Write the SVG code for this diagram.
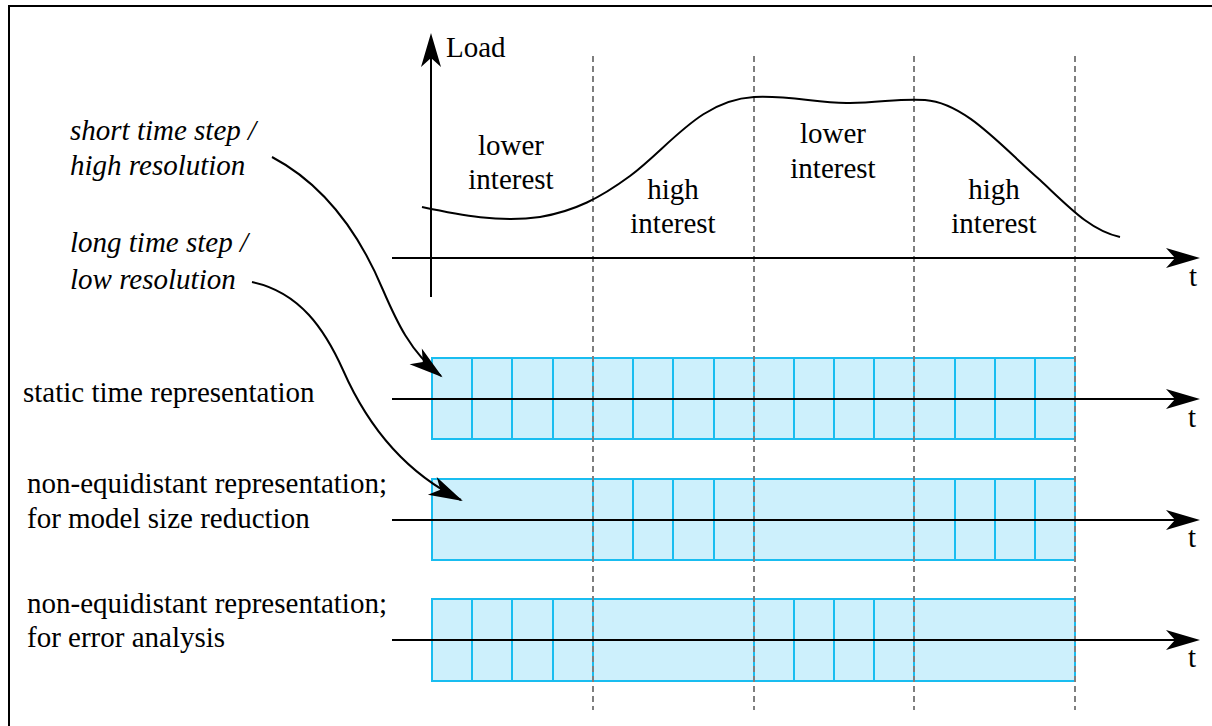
<svg xmlns="http://www.w3.org/2000/svg" width="1212" height="726" viewBox="0 0 1212 726">
<style>
text{font-size:29px;fill:#000}
.it{font-style:italic}
.ax{stroke:#000;stroke-width:2;fill:none}
.cell{fill:#cdf0fc;stroke:#19bdf0;stroke-width:2}
.dash{stroke:#7f7f7f;stroke-width:2;stroke-dasharray:6 4;fill:none}
.conn{stroke:#000;stroke-width:2;fill:none}
</style>
<defs>
<marker id="ah" markerUnits="userSpaceOnUse" viewBox="-36 -12 38 24" markerWidth="38" markerHeight="24" refX="-10" refY="0" orient="auto">
<path d="M0,0 L-34,-10 L-25,0 L-34,10 Z" fill="#000"/>
</marker>
<marker id="ah2" markerUnits="userSpaceOnUse" viewBox="-36 -12 38 24" markerWidth="38" markerHeight="24" refX="-2" refY="0" orient="auto">
<path d="M0,0 L-34,-10 L-25,0 L-34,10 Z" fill="#000"/>
</marker>
</defs>
<rect id="frame" x="9" y="6" width="1300" height="800" fill="#fff" stroke="#000" stroke-width="2"/>

<g id="row1">
<rect class="cell" x="432" y="358" width="643" height="81"/>
<path class="cell" d="M472,358V439M512,358V439M553,358V439M593,358V439M633,358V439M673,358V439M714,358V439M754,358V439M794,358V439M834,358V439M874,358V439M914,358V439M955,358V439M995,358V439M1035,358V439"/>
</g>
<g id="row2">
<rect class="cell" x="432" y="479" width="643" height="81"/>
<path class="cell" d="M593,479V560M633,479V560M673,479V560M714,479V560M754,479V560M914,479V560M955,479V560M995,479V560M1035,479V560"/>
</g>
<g id="row3">
<rect class="cell" x="432" y="599" width="643" height="82"/>
<path class="cell" d="M472,599V681M512,599V681M553,599V681M593,599V681M754,599V681M794,599V681M834,599V681M874,599V681M914,599V681"/>
</g>

<g id="dividers">
<line class="dash" x1="593" y1="56" x2="593" y2="710"/>
<line class="dash" x1="754" y1="56" x2="754" y2="710"/>
<line class="dash" x1="914" y1="56" x2="914" y2="710"/>
<line class="dash" x1="1075" y1="56" x2="1075" y2="710"/>
</g>

<g font-family="'Liberation Serif', 'DejaVu Serif', serif">
<g id="load-axes">
<line class="ax" x1="431" y1="297" x2="431" y2="43" marker-end="url(#ah)"/>
<line class="ax" x1="392" y1="258" x2="1190" y2="258" marker-end="url(#ah)"/>
<text x="446" y="57">Load</text>
<text x="1189" y="286">t</text>
</g>

<g id="load-curve">
<path class="ax" d="M422,207 C460,215 500,223 540,217 C575,211 600,198 630,176 C670,146 700,100 754,97 C790,95 820,104 850,103 C880,103 900,98 925,100 C965,103 1000,145 1040,180 C1070,208 1090,230 1120,237"/>
</g>

<g id="interest-labels">
<text x="511" y="155" text-anchor="middle">lower</text>
<text x="511" y="189" text-anchor="middle">interest</text>
<text x="673" y="199" text-anchor="middle">high</text>
<text x="673" y="233" text-anchor="middle">interest</text>
<text x="833" y="143" text-anchor="middle">lower</text>
<text x="833" y="178" text-anchor="middle">interest</text>
<text x="994" y="199" text-anchor="middle">high</text>
<text x="994" y="233" text-anchor="middle">interest</text>
</g>

<g id="time-axes">
<line class="ax" x1="392" y1="399" x2="1190" y2="399" marker-end="url(#ah)"/>
<line class="ax" x1="392" y1="520" x2="1190" y2="520" marker-end="url(#ah)"/>
<line class="ax" x1="392" y1="640" x2="1190" y2="640" marker-end="url(#ah)"/>
<text x="1188" y="427">t</text>
<text x="1188" y="547">t</text>
<text x="1188" y="667">t</text>
</g>

<g id="row-labels">
<text x="23" y="402">static time representation</text>
<text x="27" y="493">non-equidistant representation;</text>
<text x="27" y="528">for model size reduction</text>
<text x="27" y="613">non-equidistant representation;</text>
<text x="27" y="647">for error analysis</text>
</g>

<g id="resolution-labels">
<text class="it" x="70" y="140">short time step /</text>
<text class="it" x="70" y="175">high resolution</text>
<text class="it" x="70" y="252">long time step /</text>
<text class="it" x="70" y="289">low resolution</text>
</g>
</g>

<g id="connectors">
<path class="conn" d="M272,157 C325,185 360,235 383,290 C396,320 410,352 441,376" marker-end="url(#ah2)"/>
<path class="conn" d="M252,282 C300,292 325,330 343,370 C365,420 400,470 461,500" marker-end="url(#ah2)"/>
</g>
</svg>
